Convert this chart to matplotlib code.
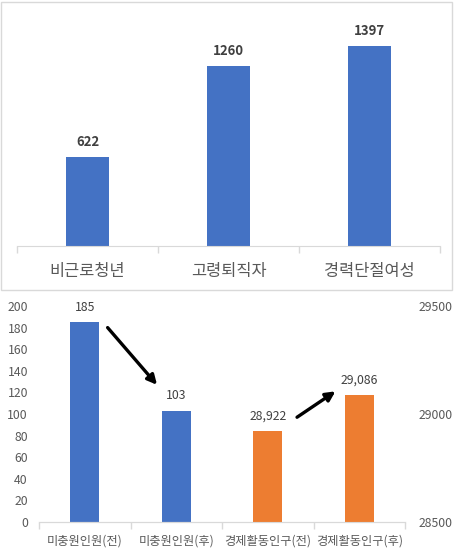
import matplotlib
matplotlib.use('Agg')
import matplotlib.pyplot as plt
from matplotlib.patches import Rectangle

plt.rcParams['font.family'] = ['Noto Sans CJK KR', 'DejaVu Sans']

# top chart
groups = ['비근로청년', '고령퇴직자', '경력단절여성']
group_vals = [622, 1260, 1397]

# bottom chart
cats = ['미충원인원(전)', '미충원인원(후)', '경제활동인구(전)', '경제활동인구(후)']
unfilled = [185, 103]
active = [28922, 29086]
left_ticks = list(range(0, 201, 20))
right_ticks = [28500, 29000, 29500]

blue = '#4472C4'
orange = '#ED7D31'
grey_txt = '#595959'
dark_txt = '#404040'
line_c = '#D9D9D9'

W, H = 457, 557
fig = plt.figure(figsize=(W / 100, H / 100), dpi=100)

def box(l, t, r, b):
    return [l / W, (H - b) / H, (r - l) / W, (b - t) / H]

# border round the top chart
fig.patches.append(Rectangle((1 / W, (H - 290) / H), 451 / W, 288 / H,
                             transform=fig.transFigure, fill=False,
                             edgecolor=line_c, lw=1))

ax1 = fig.add_axes(box(17, 17.5, 440, 246))
x = range(len(groups))
b1 = ax1.bar(x, group_vals, width=0.305, color=blue)
ax1.set_xlim(-0.5, len(groups) - 0.5)
ax1.set_ylim(0, 1600)
for r, v in zip(b1, group_vals):
    ax1.annotate(str(v), (r.get_x() + r.get_width() / 2, v), xytext=(0, 6),
                 textcoords='offset points', ha='center', va='bottom',
                 fontsize=9.5, fontweight='bold', color=dark_txt)
ax1.set_xticks(list(x))
ax1.set_xticklabels(groups, fontsize=11.8, color=grey_txt)
ax1.set_xticks([i - 0.5 for i in range(len(groups) + 1)], minor=True)
ax1.tick_params(axis='x', which='major', length=0, pad=12)
ax1.tick_params(axis='x', which='minor', length=5, color=line_c, width=1)
ax1.set_yticks([])
for s in ['top', 'left', 'right']:
    ax1.spines[s].set_visible(False)
ax1.spines['bottom'].set_color(line_c)

# bottom chart, two y axes
ax2 = fig.add_axes(box(39, 306, 405, 522))
ax3 = ax2.twinx()
bw = 0.317
b2 = ax2.bar([0, 1], unfilled, width=bw, color=blue)
b3 = ax3.bar([2, 3], active, width=bw, color=orange)
ax2.set_xlim(-0.5, len(cats) - 0.5)
ax2.set_ylim(0, 200)
ax3.set_ylim(28500, 29500)
ax2.set_yticks(left_ticks)
ax3.set_yticks(right_ticks)
ax2.tick_params(axis='y', length=0, pad=8, labelsize=8.8, labelcolor=grey_txt)
ax3.tick_params(axis='y', length=0, pad=10, labelsize=8.8, labelcolor=grey_txt)
ax2.set_xticks(range(len(cats)))
ax2.set_xticklabels(cats, fontsize=8.8, color=grey_txt)
ax2.set_xticks([i - 0.5 for i in range(len(cats) + 1)], minor=True)
ax2.tick_params(axis='x', which='major', length=0, pad=9)
ax2.tick_params(axis='x', which='minor', length=5, color=line_c, width=1)
for a in (ax2, ax3):
    for s in ['top', 'left', 'right']:
        a.spines[s].set_visible(False)
    a.spines['bottom'].set_color(line_c)

for r, v in zip(b2, unfilled):
    ax2.annotate(str(v), (r.get_x() + r.get_width() / 2, v), xytext=(0, 6),
                 textcoords='offset points', ha='center', va='bottom',
                 fontsize=8.8, color=dark_txt)
for r, v in zip(b3, active):
    ax3.annotate(f'{v:,}', (r.get_x() + r.get_width() / 2, v), xytext=(0, 6),
                 textcoords='offset points', ha='center', va='bottom',
                 fontsize=8.8, color=dark_txt)

# arrows
arrow = dict(arrowstyle='-|>', lw=2.4, color='black', mutation_scale=14,
             shrinkA=0, shrinkB=0)
ax2.annotate('', xy=(0.79, 127), xytext=(0.25, 180), arrowprops=arrow)
ax2.annotate('', xy=(2.74, 121), xytext=(2.32, 97), arrowprops=arrow)

fig.savefig('out.png', dpi=100)
